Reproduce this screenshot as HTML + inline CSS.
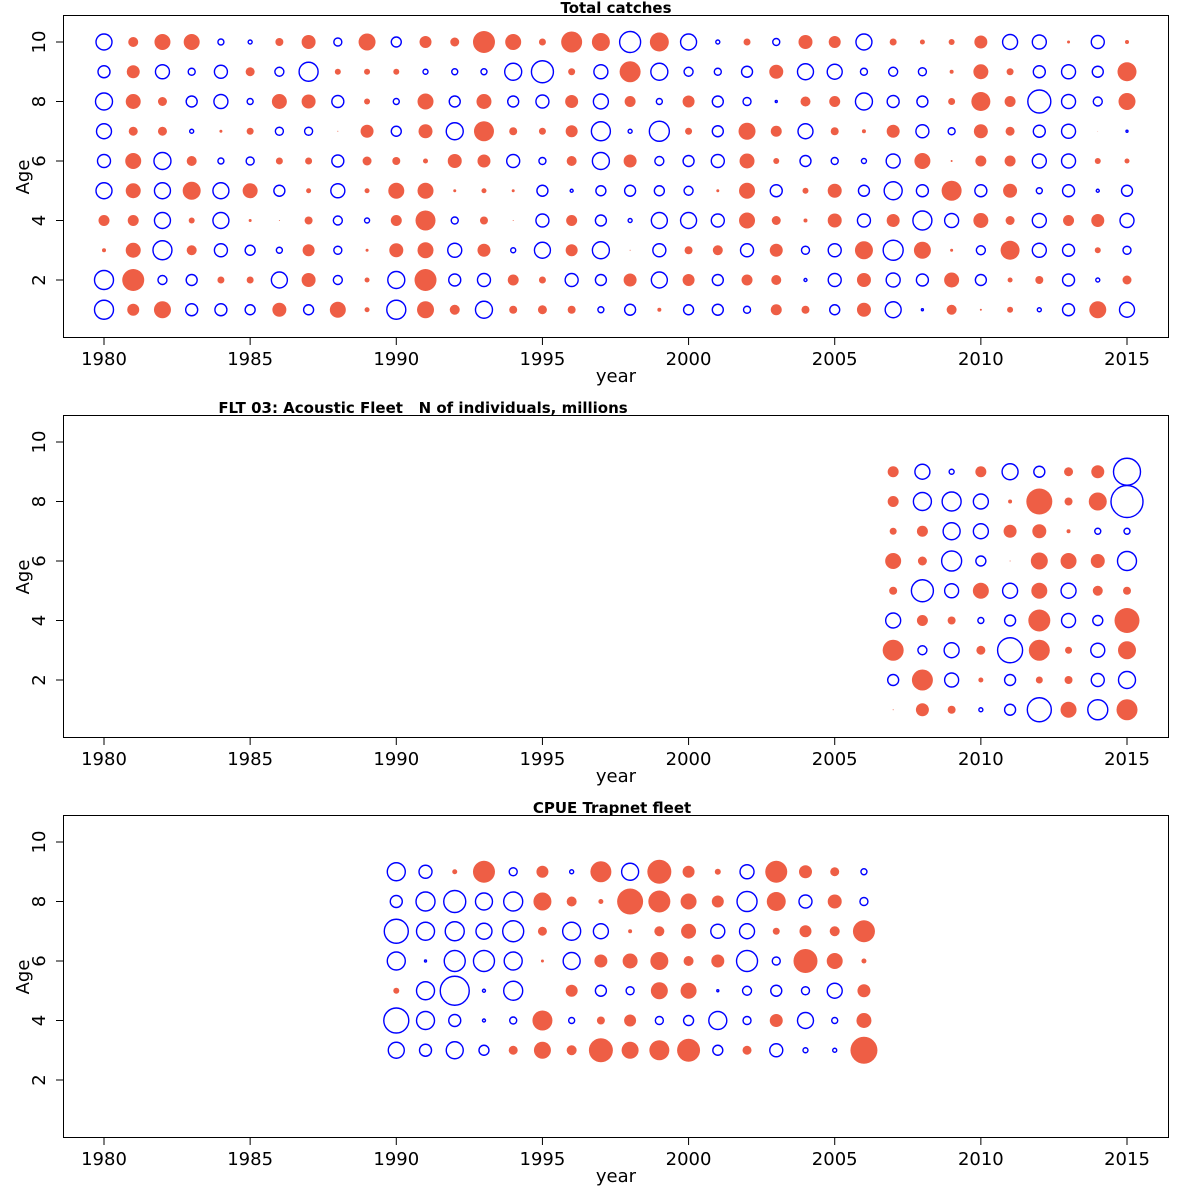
<!DOCTYPE html>
<html><head><meta charset="utf-8"><style>
body{margin:0;background:#fff;}
svg{display:block;font-family:"DejaVu Sans","Liberation Sans",sans-serif;white-space:pre;}
</style></head><body>
<svg id="chart" width="1200" height="1200" xml:space="preserve"></svg>
<script>
// Panel 1: Total catches (years 1980-2015, ages 10..1 rows)
const years1 = Array.from({length:36},(_,i)=>1980+i);
const ages1 = [10,9,8,7,6,5,4,3,2,1];
const catchA10 = [-8,5,8,8,-3,-2,4,7,-4,8.5,-5,6, 4.5,11,8,3.5,10.5,9,-10.5,9.5,-8,-2,3.5,-3.5, 7,6,-8,3.5,2.5,3,6.5,-7.5,-7,1.5,-6.5,2];
const catchA9 = [-6,6.5,-7,-3.5,-6.5,4.5,-4.5,-9.5,3,3,3,-2.5, -3,-3,-8.5,-11,3.5,-7,10.5,-8.5,-4.5,-3.5,-5.5,7, -8,-7.5,-3.5,-4.5,-4,2,7.5,3.5,-6,-7,-5.5,9.5];
const catchA8 = [-8.5,7.5,4.5,-5.5,-7,-3,7.5,7,-6,3,-3,8, -5.5,7.5,-5.5,-6.5,6.5,-7.5,5.5,-3,6,-5.5,-4,-1, 5,5.5,-8.5,-6,-5.5,3.5,9.5,5.5,-11.5,-7,-4.5,8.5];
const catchA7 = [-7.5,4.5,4.5,-2,1.5,3.5,-4,-4,0.5,6.5,-5,7, -8.5,10,4,3.5,6,-9.5,-2,-10,3.5,-5.5,8.5,5.5, -7.5,4,2,6.5,-6.5,-3.5,7,4.5,-6,-7,0.3,-1];
const catchA6 = [-6.5,8,-8.5,5,-3,-4,3.5,3.5,-6,4.5,4,2.5, 7,6.5,-6.5,-3.5,5,-8.5,6.5,-4.5,-5.5,-6.5,7.5,3, -5.5,-3.5,-2.5,-7,8,1,5.5,5.5,-7,-7,3,2.5];
const catchA5 = [-8,7.5,-8,9,-8,7.5,-5.5,2.5,-7,2.5,8,8, 1.5,2.5,1.5,-5.5,-1.5,-5,-5.5,-5,-4.5,1.5,8,-6, 3,7,-5.5,-9,-6,10,-6,7,-3,-6,-1.5,-5.5];
const catchA4 = [5.5,5.5,-8,3,-8,1.5,0.5,4,-4.5,-2.5,5.5,10, -3.5,4,0.5,-6.5,5.5,-5.5,-2,-8,-8,-6.5,8,4.5, 2,7,-6.5,6.5,-9.5,-7,7.5,4.5,-7,5.5,6.5,-7];
const catchA3 = [2,7.5,-9.5,5,-6.5,-5,-3,6,-4,1.5,7,8, -7,6.5,-2.5,-8,6,-8.5,0.5,-6.5,4,5,-6.5,6.5, -4,-6.5,9,-10,8.5,1.5,-4.5,9.5,-7,-6,3,-4];
const catchA2 = [-9.5,11,-4.5,-5.5,3.5,3.5,-8,7,-4.5,2.5,-8.5,11, -6,-6.5,5.5,3.5,-6.5,-5.5,6.5,-8,6,-5.5,5.5,5, -1.5,-6.5,7,-7,-6,7.5,-5.5,2.5,4,-6,-2,4.5];
const catchA1 = [-9.5,6,8.5,-6,-6,-5,7,-5,8,2.5,-9.5,8.5, 5,-8.5,4,4.5,4,-3,-5.5,2,-5,-5.5,-3.5,5.5, 4,-5,7,-8,-1,5,1,3,-2,-6,8.5,-7.5];
const catchRows = [catchA10,catchA9,catchA8,catchA7,catchA6,catchA5,catchA4,catchA3,catchA2,catchA1];

// Panel 2: FLT 03 Acoustic Fleet (2007-2015, ages 9..1)
const years2 = [2007,2008,2009,2010,2011,2012,2013,2014,2015];
const ages2 = [9,8,7,6,5,4,3,2,1];
const acA9 = [5.5,-7.5,-2.5,5.5,-8,-5.5,4.5,6.5,-13.5];
const acA8 = [5.5,-9,-9.5,-7.5,2,13,4,9,-16];
const acA7 = [3.5,5.5,-8.5,-7.5,6.5,7,2,-3,-3];
const acA6 = [8,4.5,-10,-5,0.5,8.5,8,7,-9.5];
const acA5 = [4,-11,-7,8,-7.5,8,-7.5,5,4];
const acA4 = [-7.5,5.5,4,-3,-5.5,11,-7,-5,12.5];
const acA3 = [10.5,-4.5,-7.5,4.5,-12.5,10.5,3.5,-7,9];
const acA2 = [-5.5,10.5,-7,2.5,-5.5,3.5,4,-6.5,-8.5];
const acA1 = [0.5,6.5,4,-2,-5.5,-12,8,-10,10.5];
const acRows = [acA9,acA8,acA7,acA6,acA5,acA4,acA3,acA2,acA1];

// Panel 3: CPUE Trapnet fleet (1990-2006, ages 9..3)
const years3 = Array.from({length:17},(_,i)=>1990+i);
const ages3 = [9,8,7,6,5,4,3];
const tnA9 = [-9,-6.5,2.5,11,-4,6,-2,10.5,-8.5,12,6,3,-7,11,6.5,4.5,-3];
const tnA8 = [-6,-9.5,-11,-8.5,-9.5,9,5,2.5,13,11,8,6,-10,9.5,-6.5,7,-4];
const tnA7 = [-12,-9,-9.5,-8,-10.5,4.5,-9,-7.5,2,5,7.5,-7,-7.5,3.5,6,5,11];
const tnA6 = [-9,-1,-10.5,-10.5,-9,1.5,-8.5,6.5,7.5,9,5,6.5,-10.5,-4,12,8,2.5];
const tnA5 = [3,-9,-14.5,-1.5,-9.5,0,6,-5.5,-4,8.5,8,-1,-4.5,-5.5,-4,-7.5,6.5];
const tnA4 = [-12.5,-9,-6,-1.5,-3.5,10,-3,4,6,-4,-5,-9,-4,6.5,-8,-3,7.5];
const tnA3 = [-8,-6,-8.5,-5,4.5,8.5,5,12,8.5,10,11.5,-5,4.5,-6.5,-2.5,-2,13.5];
const tnRows = [tnA9,tnA8,tnA7,tnA6,tnA5,tnA4,tnA3];

const xTicks = [1980,1985,1990,1995,2000,2005,2010,2015];
const yTicks = [2,4,6,8,10];
const titles = ["Total catches","FLT 03: Acoustic Fleet\u00a0\u00a0\u00a0N of individuals, millions","CPUE Trapnet fleet"];

const NS="http://www.w3.org/2000/svg";
const svg=document.getElementById('chart');
const RED="#EE5E45", BLUE="#0000FF";
function xScale(y){return 104+(y-1980)*(1127-104)/35;}
function yScale(a,top){return top+280-15-(a-2)*29.75;}
function rScale(v){return Math.abs(v);}
function mk(tag,attrs,parent){const e=document.createElementNS(NS,tag);for(const k in attrs)e.setAttribute(k,attrs[k]);(parent||svg).appendChild(e);return e;}

const panels=[
 {top:15,title:titles[0],tx:616,years:years1,ages:ages1,rows:catchRows,name:'total-catches'},
 {top:415,title:titles[1],tx:423,years:years2,ages:ages2,rows:acRows,name:'acoustic-fleet'},
 {top:815,title:titles[2],tx:612,years:years3,ages:ages3,rows:tnRows,name:'cpue-trapnet'}
];
panels.forEach(p=>{
  const g=mk('g',{});
  
  
  const box=mk('rect',{x:63.5,y:p.top+0.5,width:1105,height:322,fill:'none',stroke:'#000','stroke-width':1},g);
  
  
  const t=mk('text',{x:p.tx,y:p.top-2,'text-anchor':'middle','font-size':15,'font-weight':'bold'},g);
  t.textContent=p.title;
  
  
  const bottom=p.top+323;
  xTicks.forEach(v=>{
    const x=xScale(v);
    mk('line',{x1:x,x2:x,y1:bottom,y2:bottom+7,stroke:'#000'},g);
    const l=mk('text',{x:x,y:bottom+27,'text-anchor':'middle','font-size':18},g);
    l.textContent=v;
    
    
  });
  const xt=mk('text',{x:616,y:bottom+44,'text-anchor':'middle','font-size':18},g);
  xt.textContent='year';
  
  
  yTicks.forEach(v=>{
    const y=yScale(v,p.top);
    mk('line',{x1:56,x2:63,y1:y,y2:y,stroke:'#000'},g);
    const l=mk('text',{x:0,y:0,'text-anchor':'middle','font-size':18,transform:`translate(45,${y}) rotate(-90)`},g);
    l.textContent=v;
    
    
  });
  const yt=mk('text',{x:0,y:0,'text-anchor':'middle','font-size':18,transform:`translate(29,${p.top+162}) rotate(-90)`},g);
  yt.textContent='Age';
  
  
  p.rows.forEach((row,ri)=>{
    const a=p.ages[ri];
    row.forEach((v,ci)=>{
      if(v===0)return;
      const pos=v>0;
      const c=mk('circle',{cx:xScale(p.years[ci]),cy:yScale(a,p.top),r:rScale(v),
        fill:pos?RED:'none',stroke:pos?'none':BLUE,'stroke-width':1.4},g);
      
      
    });
  });
});
</script>
</body></html>
